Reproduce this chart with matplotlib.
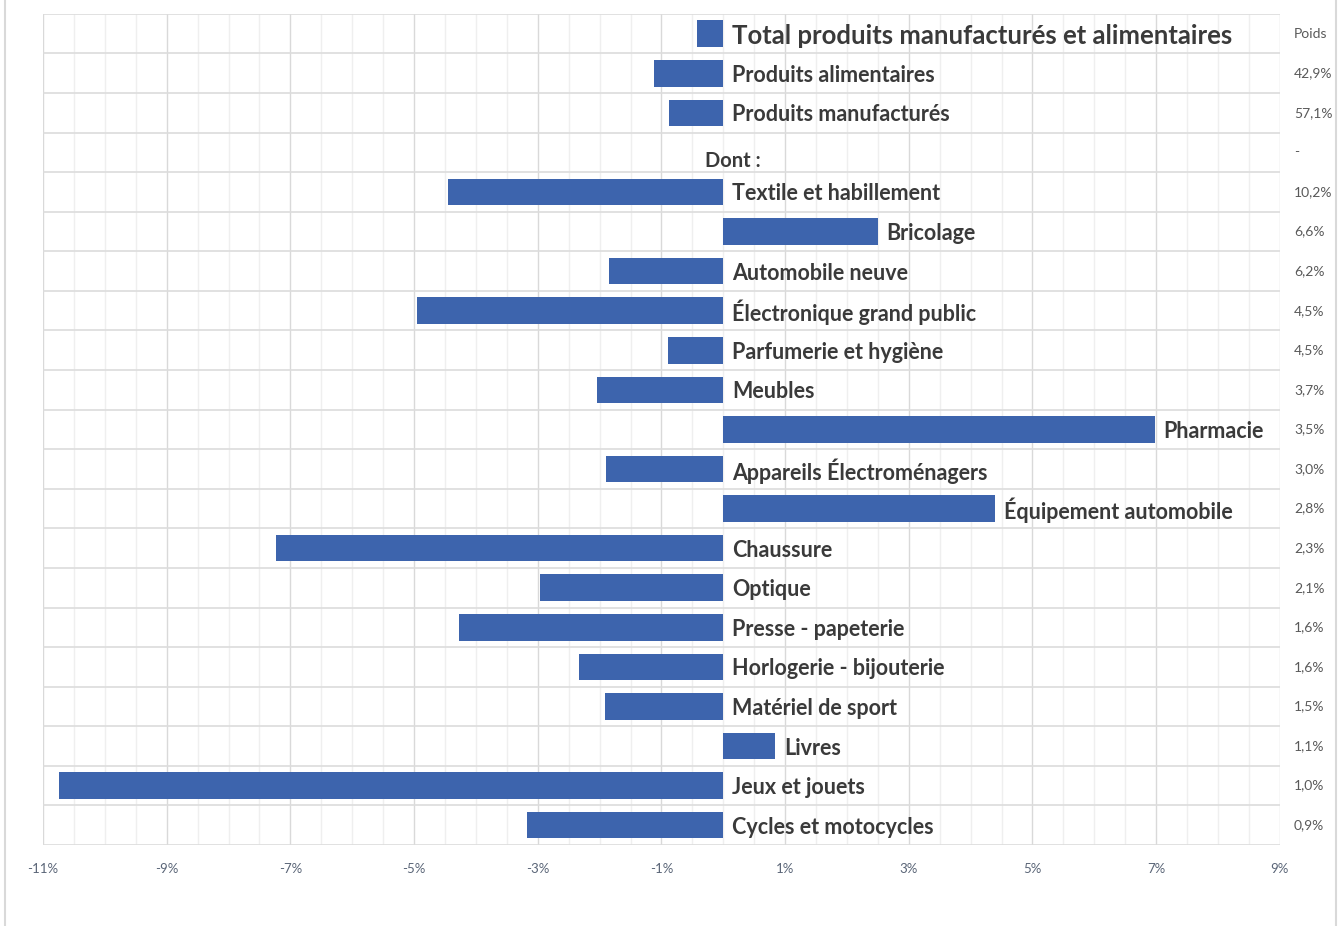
import matplotlib
matplotlib.use("Agg")
from matplotlib import pyplot as plt
from matplotlib.lines import Line2D
from matplotlib.patches import Rectangle
from matplotlib.ticker import MultipleLocator, FuncFormatter

plt.rcParams['font.family'] = ['Lato', 'DejaVu Sans']

# données (variation en %)
categories = [
    "Total produits manufacturés et alimentaires",
    "Produits alimentaires",
    "Produits manufacturés",
    "Dont :",
    "Textile et habillement",
    "Bricolage",
    "Automobile neuve",
    "Électronique grand public",
    "Parfumerie et hygiène",
    "Meubles",
    "Pharmacie",
    "Appareils Électroménagers",
    "Équipement automobile",
    "Chaussure",
    "Optique",
    "Presse - papeterie",
    "Horlogerie - bijouterie",
    "Matériel de sport",
    "Livres",
    "Jeux et jouets",
    "Cycles et motocycles",
]
values = [-0.42, -1.12, -0.87, None, -4.45, 2.50, -1.84, -4.96, -0.89, -2.04,
          6.98, -1.89, 4.40, -7.23, -2.97, -4.27, -2.34, -1.91, 0.84, -10.74, -3.17]
poids = ["Poids", "42,9%", "57,1%", "-", "10,2%", "6,6%", "6,2%", "4,5%", "4,5%",
         "3,7%", "3,5%", "3,0%", "2,8%", "2,3%", "2,1%", "1,6%", "1,6%", "1,5%",
         "1,1%", "1,0%", "0,9%"]

bar_color = '#3d64ad'
text_color = '#3a3a3a'

fig = plt.figure(figsize=(13.43, 9.26), dpi=100)
ax = fig.add_axes([0.032, 0.0875, 0.921, 0.8975])

n = len(categories)
ypos = list(range(n))
for y, v in zip(ypos, values):
    if v is None:
        continue
    ax.barh(y, v, height=0.67, color=bar_color, zorder=3)

for y, (lab, v) in zip(ypos, zip(categories, values)):
    if v is None:
        ax.text(-0.3, y + 0.22, lab, ha='left', va='center', fontsize=14.5,
                fontweight='bold', color=text_color, zorder=4)
        continue
    size = 18.5 if y == 0 else 15.5
    t = ax.text(max(v, 0) + 0.14, y + 0.05, lab, ha='left', va='center', fontsize=size,
                fontweight='bold', color=text_color, zorder=4)
    if lab.startswith("Parfumerie"):
        # le bas du libellé est rogné dans l'original
        clip = Rectangle((-11, y - 0.5), 20, 0.7, transform=ax.transData)
        t.set_clip_path(clip)

for y, p in zip(ypos, poids):
    ax.annotate(p, xy=(1, y), xycoords=('axes fraction', 'data'),
                xytext=(14, 0), textcoords='offset pixels',
                ha='left', va='center', fontsize=10, color='#595959')

ax.set_xlim(-11, 9)
ax.set_ylim(n - 0.5, -0.5)
ax.xaxis.set_minor_locator(MultipleLocator(0.5))
ax.set_xticks([-11, -9, -7, -5, -3, -1, 1, 3, 5, 7, 9])
ax.xaxis.set_major_formatter(FuncFormatter(lambda x, p: f"{x:.0f}%"))
ax.set_yticks([i + 0.5 for i in range(-1, n)])
ax.set_yticklabels([])
ax.tick_params(axis='both', length=0, which='both')
ax.tick_params(axis='x', labelsize=9.5, labelcolor='#5a6577', pad=13)

ax.grid(axis='x', which='major', color='#d9d9d9', linewidth=1, zorder=0)
ax.grid(axis='x', which='minor', color='#efefef', linewidth=1, zorder=0)
ax.grid(axis='y', which='major', color='#dcdcdc', linewidth=1.2, zorder=0)
for s in ax.spines.values():
    s.set_visible(False)

# bordure de la capture
fig.add_artist(Line2D([0.004, 0.004], [0, 1], color='#d9d9d9', lw=1.5))
fig.add_artist(Line2D([0.995, 0.995], [0, 1], color='#d9d9d9', lw=1.5))

plt.savefig('out.png', dpi=100)
